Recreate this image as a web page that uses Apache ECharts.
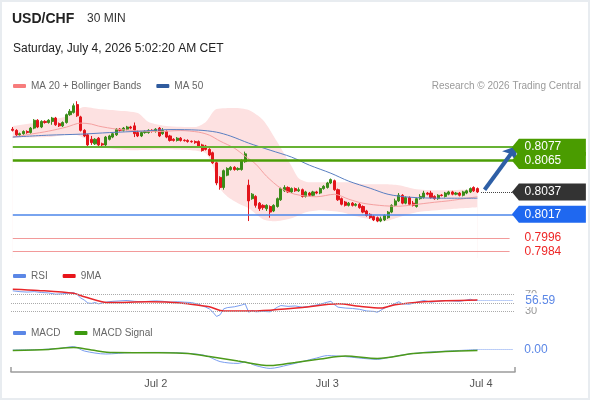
<!DOCTYPE html>
<html><head><meta charset="utf-8">
<script src="https://cdn.jsdelivr.net/npm/echarts@6.0.0/dist/echarts.min.js"></script>
<style>html,body{margin:0;padding:0;background:#fff}#c{width:590px;height:400px}</style>
</head><body><div id="c"></div>
<script>
// ---------- data ----------
const mainSlots = 162, axisSlots = 141;
const categories = [];
for (let i = 0; i < mainSlots; i++) {
  const t = new Date(Date.UTC(2026, 6, 1, 4, 0) + i * 30 * 60000);
  categories.push((t.getUTCMonth() + 1) + '/' + t.getUTCDate() + ' ' + String(t.getUTCHours()).padStart(2, '0') + ':' + String(t.getUTCMinutes()).padStart(2, '0'));
}
const tickIndex = [40, 88, 131];
const tickLabels = ['Jul 2', 'Jul 3', 'Jul 4'];

// [open, close, low, high]
const candles = [
[.8093,.8092,.8091,.8095],[.8092,.8088,.8087,.8093],[.8088,.8089,.8087,.8090],[.8089,.8091,.8088,.8092],[.8091,.8090,.8089,.8092],
[.8090,.8094,.8089,.8095],[.8094,.8101,.8093,.8102],[.8101,.8095,.8094,.8102],[.8095,.8100,.8094,.8101],[.8100,.8099,.8098,.8101],
[.8099,.8101,.8098,.8102],[.8100,.8103,.8097,.8104],[.8103,.8097,.8096,.8104],[.8098,.8096,.8095,.8099],[.8096,.8099,.8095,.8100],
[.8099,.8106,.8098,.8107],[.8106,.8109,.8105,.8111],[.8108,.8114,.8107,.8116],[.8115,.8105,.8104,.8118],[.8104,.8092,.8091,.8105],
[.8092,.8087,.8086,.8093],[.8088,.8079,.8078,.8089],[.8084,.8081,.8079,.8087],[.8080,.8084,.8079,.8085],[.8085,.8079,.8077,.8086],
[.8080,.8079,.8078,.8081],[.8079,.8086,.8078,.8087],[.8084,.8087,.8083,.8088],[.8086,.8089,.8085,.8090],[.8088,.8093,.8087,.8094],
[.8093,.8092,.8091,.8094],[.8092,.8094,.8091,.8095],[.8093,.8095,.8092,.8096],[.8095,.8094,.8093,.8096],[.8096,.8089,.8086,.8099],
[.8090,.8087,.8086,.8092],[.8087,.8090,.8086,.8091],[.8090,.8091,.8089,.8092],[.8090,.8092,.8089,.8093],[.8092,.8091,.8090,.8093],
[.8091,.8093,.8090,.8094],[.8094,.8087,.8086,.8095],[.8089,.8092,.8088,.8094],[.8091,.8086,.8085,.8092],[.8087,.8083,.8082,.8088],
[.8084,.8083,.8082,.8085],[.8083,.8085,.8082,.8086],[.8085,.8083,.8082,.8086],[.80832,.80828,.8082,.8084],[.8083,.8082,.8081,.8084],
[.80822,.80818,.8081,.8083],[.8082,.8081,.8080,.8083],[.8082,.8078,.8077,.8083],[.8079,.8074,.8073,.8080],[.8078,.8075,.8074,.8079],
[.8075,.8070,.8069,.8076],[.8072,.8063,.8062,.8073],[.8063,.8045,.8043,.8064],[.8050,.8041,.8039,.8051],[.8041,.8056,.8039,.8057],
[.8052,.8058,.8051,.8059],[.8057,.8059,.8056,.8060],[.8059,.8057,.8056,.8060],[.8057,.8058,.8056,.8059],[.8057,.8065,.8056,.8066],
[.8064,.8071,.8063,.8073],[.8043,.8029,.8011,.8048],[.8031,.8035,.8030,.8036],[.8033,.8025,.8023,.8034],[.8027,.8022,.8020,.8028],
[.8025,.8023,.8021,.8026],[.8022,.8025,.8020,.8026],[.8024,.8019,.8014,.8025],[.8020,.8025,.8019,.8026],[.8024,.8031,.8023,.8032],
[.8030,.8040,.8029,.8041],[.8038,.8041,.8037,.8043],[.8041,.8037,.8036,.8042],[.8037,.8040,.8036,.8041],[.8040,.8038,.8037,.8041],
[.8038,.8039,.8037,.8041],[.8039,.8033,.8032,.8040],[.8033,.8037,.8032,.8038],[.8036,.8034,.8033,.8037],[.8034,.8037,.8033,.8038],
[.8037,.8036,.8035,.8038],[.8036,.8040,.8035,.8041],[.8040,.8042,.8039,.8043],[.8041,.8045,.8040,.8046],[.8045,.8048,.8044,.8049],
[.8047,.8039,.8038,.8048],[.8039,.8030,.8029,.8040],[.8031,.8026,.8025,.8032],[.8028,.8025,.8024,.8029],[.8025,.8027,.8024,.8028],
[.8027,.8025,.8024,.8028],[.8025,.8026,.8024,.8027],[.8026,.8023,.8022,.8027],[.8024,.8019,.8018,.8025],[.8020,.8016,.8015,.8021],
[.8017,.8014,.8013,.8018],[.8015,.8012,.8011,.8016],[.8014,.8011,.8010,.8015],[.8011,.8013,.8010,.8015],[.8012,.8016,.8011,.8017],
[.8014,.8019,.8013,.8020],[.8019,.8025,.8018,.8026],[.8025,.8029,.8024,.8031],[.8029,.8034,.8028,.8036],[.8034,.8027,.8026,.8035],
[.8027,.8032,.8026,.8033],[.8032,.8026,.8025,.8033],[.8027,.8025,.8024,.8029],[.8024,.8031,.8023,.8032],[.8031,.8033,.8030,.8035],
[.8032,.8036,.8031,.8038],[.8036,.8035,.8034,.8037],[.8036,.8032,.8031,.8038],[.8033,.8031,.8030,.8034],[.8031,.8034,.8030,.8035],
[.80342,.80338,.8033,.8035],[.8033,.8036,.8032,.8037],[.8035,.8037,.8034,.8038],[.8037,.8035,.8034,.8038],[.8035,.8036,.8034,.8037],
[.8036,.8034,.8033,.8037],[.8034,.8037,.8033,.8038],[.8036,.8038,.8035,.8039],[.8037,.8040,.8036,.8041],[.8041,.8038,.8037,.8042],
[.8040,.8037,.8036,.8041]
];

const ma20 = [[0,.8086],[5,.80886],[10,.80913],[15,.80949],[19,.80985],[22,.80976],[24,.80958],[29,.80931],[34,.80918],[40,.80909],[47,.80918],[52,.80904],[55,.80877],[58,.80824],[62,.80761],[65,.80689],[68,.80618],[71,.8051],[75,.80403],[79,.80349],[85,.80327],[90,.80349],[94,.80305],[98,.80269],[104,.80246],[108,.80242],[112,.80255],[118,.80278],[122,.80291],[130,.80327]];
const ma50 = [[0,.8086],[10,.80877],[19,.80886],[27,.8090],[36,.80913],[44,.80927],[52,.80922],[57,.80904],[61,.80868],[66,.80806],[72,.80743],[78,.80681],[83,.80609],[89,.80537],[94,.80466],[100,.80403],[105,.80349],[111,.80323],[120,.80314],[130,.80314]];
const bbUpper = [[0,.80958],[6,.80985],[10,.81012],[15,.81043],[20,.81128],[24,.8111],[29,.81097],[35,.81074],[38,.80994],[43,.80958],[51,.80949],[54,.80994],[56,.81083],[57,.8111],[62,.81119],[66,.81101],[70,.81012],[74,.80815],[78,.806],[80,.80493],[83,.80457],[89,.80457],[94,.80457],[99,.80439],[104,.80439],[108,.8043],[113,.80394],[120,.80385],[130,.80394]];
const bbLower = [[0,.80855],[10,.8086],[17,.80886],[20,.80851],[24,.80775],[29,.80752],[34,.80743],[43,.80752],[50,.80743],[54,.80716],[56,.806],[57,.8049],[58,.8040],[60,.8033],[63,.8027],[66,.80224],[70,.80126],[73,.80108],[78,.80135],[82,.80188],[86,.80206],[92,.80188],[96,.80152],[100,.80126],[104,.80108],[108,.80143],[113,.80188],[122,.80215],[130,.80233]];

const rsi = [[0,79],[2,77],[4,76],[6,77],[8,75],[10,74],[12,71],[14,72],[16,74],[17,75],[18,70],[19,62],[20,57],[21,50],[22,49],[23,51],[24,48],[26,52],[28,54],[30,55],[32,56],[34,54],[36,53],[38,54],[40,55],[42,54],[44,52],[46,53],[48,52],[50,51],[52,47],[54,40],[55,36],[56,28],[57,18],[58,22],[59,36],[60,39],[62,41],[64,45],[65,48],[66,28],[67,32],[68,29],[70,30],[72,29],[74,40],[75,44],[77,42],[79,43],[81,40],[83,42],[86,47],[88,52],[89,54],[90,46],[91,40],[93,38],[95,37],[97,35],[99,31],[101,30],[102,28],[104,38],[106,45],[108,53],[109,48],[111,47],[113,52],[115,56],[117,52],[119,54],[121,56],[123,55],[125,54],[127,57],[128,59],[129,56],[130,56.59]];
const rsiMA = [[0,83],[7,80],[17,73],[20,65],[27,51],[38,53],[44,52],[49,48],[55,41],[59,31],[65,31],[72,33],[81,39],[91,48],[97,42],[103,38],[107,46],[115,53],[130,57]];
const macd = [[0,0],[7,.00002],[13,.00008],[17,.00017],[20,-.00005],[26,-.0002],[33,-.00013],[42,-.00012],[49,-.00017],[54,-.00028],[58,-.00058],[63,-.00067],[65,-.0006],[68,-.00078],[72,-.00092],[77,-.00075],[81,-.00058],[85,-.0004],[88,-.00028],[93,-.00033],[98,-.00042],[102,-.00047],[105,-.00038],[109,-.00025],[115,-.00012],[122,-.00005],[130,.00002]];
const macdSignal = [[0,-.00003],[10,.00003],[17,.00012],[22,0],[28,-.00013],[38,-.00014],[49,-.00017],[55,-.00033],[63,-.00055],[72,-.00078],[79,-.00062],[86,-.00045],[93,-.0003],[102,-.00042],[112,-.00017],[121,-.00008],[130,-.00002]];

const resistance = [0.8077, 0.8065];
const lastPrice = 0.8037;
const support = [0.8017, 0.7996, 0.7984];
const rsiLast = 56.59, macdLastLabel = '0.00';

// ---------- chart ----------
const FONT = '"Liberation Sans", Arial, sans-serif';
const lastIdx = candles.length - 1;
const boxPath = 'path://M0,8L7,0L74,0L74,16L7,16Z';
const hLine = (v, color, width, endIdx, label) => [
  Object.assign({coord: [0, v], lineStyle: {color: color, width: width, type: 'solid'}}, label ? {label: label} : {}),
  {coord: [endIdx, v]}
];
const box = (v, color) => ({name: v.toFixed(4), coord: [150, v], itemStyle: {color: color}});
const legendBase = {left: 13, padding: 0, icon: 'roundRect', itemWidth: 13, itemHeight: 4, itemGap: 15, selectedMode: false,
  textStyle: {color: '#666', fontSize: 10}};

const chart = echarts.init(document.getElementById('c'));
chart.setOption({
  animation: false,
  backgroundColor: '#fff',
  textStyle: {fontFamily: FONT},
  grid: [
    {left: 11, top: 99, width: 579, height: 159},
    {left: 11, top: 282, width: 504, height: 42},
    {left: 11, top: 340, width: 504, height: 32}
  ],
  xAxis: [
    {gridIndex: 0, type: 'category', data: categories, boundaryGap: true, show: false},
    {gridIndex: 1, type: 'category', data: categories.slice(0, axisSlots), boundaryGap: true, show: false},
    {gridIndex: 2, type: 'category', data: categories.slice(0, axisSlots), boundaryGap: true,
     axisLine: {show: true, onZero: false, lineStyle: {color: '#9c9c9c', width: 1.5}},
     axisTick: {show: true, inside: true, length: 5, interval: function (i) { return i === 0; }, lineStyle: {color: '#9c9c9c', width: 1.5}},
     axisLabel: {show: true, interval: function (i) { return tickIndex.indexOf(i) >= 0; },
       formatter: function (v, i) { const k = tickIndex.indexOf(i); return k >= 0 ? tickLabels[k] : ''; },
       color: '#555', fontSize: 11, margin: 6},
     splitLine: {show: false}}
  ],
  yAxis: [
    {gridIndex: 0, type: 'value', min: 0.7978, max: 0.8120, show: false, splitLine: {show: false}},
    {gridIndex: 1, type: 'value', min: 0, max: 100, show: false, splitLine: {show: false}},
    {gridIndex: 2, type: 'value', min: -0.0011, max: 0.0005, show: false, splitLine: {show: false}}
  ],
  legend: [
    Object.assign({}, legendBase, {top: 81,
     data: [{name: 'MA 20 + Bollinger Bands', itemStyle: {color: '#f77c7c'}}, {name: 'MA 50', itemStyle: {color: '#2f5b9e'}}]}),
    Object.assign({}, legendBase, {top: 271,
     data: [{name: 'RSI', itemStyle: {color: '#5b87e6'}}, {name: '9MA', itemStyle: {color: '#e8151b'}}]}),
    Object.assign({}, legendBase, {top: 328, itemGap: 14,
     data: [{name: 'MACD', itemStyle: {color: '#5b87e6'}}, {name: 'MACD Signal', itemStyle: {color: '#3c9a10'}}]})
  ],
  graphic: [
    {type: 'rect', shape: {x: 0, y: 0, width: 590, height: 400}, style: {fill: 'none', stroke: '#e8ecf0', lineWidth: 4}, silent: true, z: 100},
    {type: 'text', x: 12, y: 19, style: {text: 'USD/CHF', fill: '#222', font: 'bold 14px ' + FONT, align: 'left', verticalAlign: 'middle', textAlign: 'left', textVerticalAlign: 'middle'}},
    {type: 'text', x: 87, y: 19, style: {text: '30 MIN', fill: '#333', font: '12px ' + FONT, align: 'left', verticalAlign: 'middle', textAlign: 'left', textVerticalAlign: 'middle'}},
    {type: 'text', x: 13, y: 49, style: {text: 'Saturday, July 4, 2026 5:02:20 AM CET', fill: '#222', font: '12px ' + FONT, align: 'left', verticalAlign: 'middle', textAlign: 'left', textVerticalAlign: 'middle'}},
    {type: 'text', x: 581, y: 86, style: {text: 'Research \u00a9 2026 Trading Central', fill: '#9a9a9a', font: '10px ' + FONT, align: 'right', verticalAlign: 'middle', textAlign: 'right', textVerticalAlign: 'middle'}}
  ],
  series: [
    {name: 'BB upper', type: 'line', xAxisIndex: 0, yAxisIndex: 0, data: bbUpper, symbol: 'none', smooth: 0.25, silent: true,
     lineStyle: {width: 0, opacity: 0}, areaStyle: {color: '#fde1e1', opacity: 1}, z: 1},
    {name: 'BB lower', type: 'line', xAxisIndex: 0, yAxisIndex: 0, data: bbLower, symbol: 'none', smooth: 0.25, silent: true,
     lineStyle: {width: 0, opacity: 0}, areaStyle: {color: '#ffffff', opacity: 1}, z: 1},
    {name: 'USD/CHF', type: 'candlestick', xAxisIndex: 0, yAxisIndex: 0, data: candles, barWidth: 2.6,
     itemStyle: {color: '#3b8c1a', color0: '#e3141b', borderColor: '#3b8c1a', borderColor0: '#e3141b', borderWidth: 1},
     markLine: {silent: true, symbol: ['none', 'none'], label: {show: false}, z: 5,
       data: [
         hLine(resistance[0], '#67b234', 2, 141),
         hLine(resistance[1], '#4b9d05', 2.5, 141),
         hLine(support[0], '#4d86ea', 1.5, 141),
         hLine(support[1], '#f29a9a', 1, 139, {show: true, position: 'end', formatter: support[1].toFixed(4), color: '#ee2727', fontSize: 12, distance: 15}),
         hLine(support[2], '#f29a9a', 1, 139, {show: true, position: 'end', formatter: support[2].toFixed(4), color: '#ee2727', fontSize: 12, distance: 15}),
         [{coord: [lastIdx + 1, lastPrice], lineStyle: {color: '#444', width: 1, type: 'dotted'}}, {coord: [141, lastPrice]}],
         [{coord: [lastIdx + 2, 0.8039], symbol: 'none', lineStyle: {color: '#2e5fa6', width: 4, type: 'solid'}},
          {coord: [141, 0.8078], symbol: 'arrow', symbolSize: [13, 13]}]
       ]},
     markPoint: {silent: true, symbol: boxPath, symbolSize: [74, 17], z: 8,
       label: {show: true, position: 'inside', formatter: '{b}', color: '#fff', fontSize: 12, offset: [-6, 0]},
       data: [box(resistance[0], '#4a9c00'), box(resistance[1], '#4a9c00'), box(lastPrice, '#333333'), box(support[0], '#1f68f0')]}
    },
    {name: 'MA 20 + Bollinger Bands', type: 'line', xAxisIndex: 0, yAxisIndex: 0, data: ma20, symbol: 'none', smooth: 0.3,
     lineStyle: {color: '#f5a0a0', width: 1}, itemStyle: {color: '#f77c7c'}, z: 3},
    {name: 'MA 50', type: 'line', xAxisIndex: 0, yAxisIndex: 0, data: ma50, symbol: 'none', smooth: 0.3,
     lineStyle: {color: '#5a7fc2', width: 1}, itemStyle: {color: '#2f5b9e'}, z: 3},
    {name: 'RSI', type: 'line', xAxisIndex: 1, yAxisIndex: 1, data: rsi, symbol: 'none',
     lineStyle: {color: '#7a9ef0', width: 1}, itemStyle: {color: '#5b87e6'},
     markLine: {silent: true, symbol: ['none', 'none'], label: {show: false},
       data: [
         {yAxis: 70, lineStyle: {type: 'dotted', color: '#aaa', width: 1}, label: {show: true, position: 'end', formatter: '70', color: '#999', fontSize: 11, distance: 10}},
         {yAxis: 50, lineStyle: {type: 'dotted', color: '#aaa', width: 1}},
         {yAxis: 30, lineStyle: {type: 'dotted', color: '#aaa', width: 1}, label: {show: true, position: 'end', formatter: '30', color: '#999', fontSize: 11, distance: 10}},
         [{coord: [lastIdx, rsiLast], lineStyle: {type: 'dotted', color: '#7a9ef0', width: 1},
           label: {show: true, position: 'end', formatter: rsiLast.toFixed(2), color: '#5b87e6', fontSize: 12, distance: 11, backgroundColor: '#fff', padding: [1, 1]}},
          {coord: [140, rsiLast]}]
       ]}},
    {name: '9MA', type: 'line', xAxisIndex: 1, yAxisIndex: 1, data: rsiMA, symbol: 'none', smooth: 0.3,
     lineStyle: {color: '#e8262a', width: 1.5}, itemStyle: {color: '#e8151b'}},
    {name: 'MACD', type: 'line', xAxisIndex: 2, yAxisIndex: 2, data: macd, symbol: 'none', smooth: 0.3,
     lineStyle: {color: '#7a9ef0', width: 1}, itemStyle: {color: '#5b87e6'},
     markLine: {silent: true, symbol: ['none', 'none'], label: {show: false},
       data: [[{coord: [lastIdx, macd[macd.length - 1][1]], lineStyle: {type: 'dotted', color: '#7a9ef0', width: 1},
                label: {show: true, position: 'end', formatter: macdLastLabel, color: '#5b87e6', fontSize: 12, distance: 11}},
               {coord: [140, macd[macd.length - 1][1]]}]]}},
    {name: 'MACD Signal', type: 'line', xAxisIndex: 2, yAxisIndex: 2, data: macdSignal, symbol: 'none', smooth: 0.3,
     lineStyle: {color: '#4c9a1a', width: 1.5}, itemStyle: {color: '#3c9a10'}}
  ]
});
</script></body></html>
